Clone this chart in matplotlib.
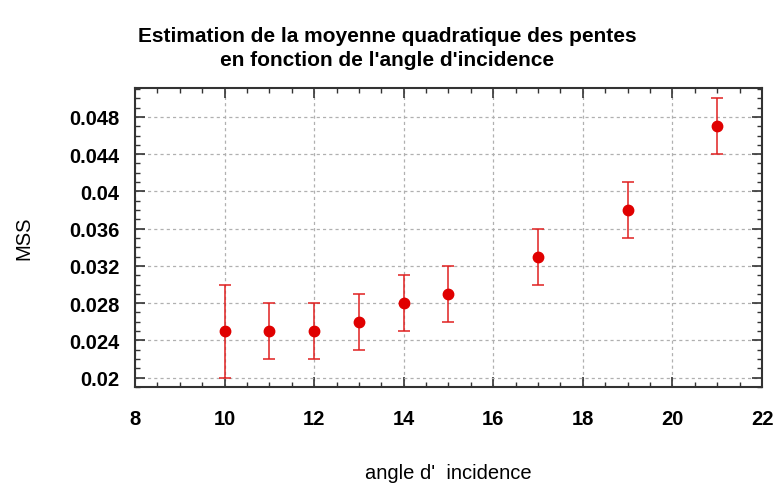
import numpy as np
import matplotlib.pyplot as plt
from matplotlib.ticker import MultipleLocator

plt.rcParams['font.family'] = ['Liberation Sans', 'DejaVu Sans']

# incidence angle (deg), mean square slope and its uncertainty
angle = [10, 11, 12, 13, 14, 15, 17, 19, 21]
mss = [0.025, 0.025, 0.025, 0.026, 0.028, 0.029, 0.033, 0.038, 0.047]
mss_err = [0.005, 0.003, 0.003, 0.003, 0.003, 0.003, 0.003, 0.003, 0.003]

xticks = [8, 10, 12, 14, 16, 18, 20, 22]
yticks = [0.02, 0.024, 0.028, 0.032, 0.036, 0.04, 0.044, 0.048]
ytick_labels = ['0.02', '0.024', '0.028', '0.032', '0.036', '0.04', '0.044', '0.048']

fig = plt.figure(figsize=(7.74, 4.85), dpi=100)
ax = fig.add_axes([0.1744, 0.2, 0.8101, 0.6165])

ax.errorbar(angle, mss, yerr=mss_err, fmt='o', color='#e00000', ecolor='#e02020',
            markersize=7.5, elinewidth=1.1, capsize=4.5, capthick=1.1, zorder=3)

ax.set_xlim(8, 22)
ax.set_ylim(0.0190, 0.0511)
ax.set_xticks(xticks)
ax.set_xticklabels([str(t) for t in xticks])
ax.set_yticks(yticks)
ax.set_yticklabels(ytick_labels)
ax.xaxis.set_minor_locator(MultipleLocator(0.5))
ax.yaxis.set_minor_locator(MultipleLocator(0.001))

ax.tick_params(which='both', direction='in', top=True, right=True, color='#333333')
ax.tick_params(which='major', length=7.5, width=1.2, labelsize=14.5)
ax.tick_params(axis='x', which='major', pad=15.5)
ax.tick_params(axis='y', which='major', pad=11)
ax.tick_params(which='minor', length=3.8, width=1.0)
for lab in ax.get_xticklabels() + ax.get_yticklabels():
    lab.set_fontweight('bold')

for s in ax.spines.values():
    s.set_linewidth(1.5)
    s.set_color('#333333')

ax.grid(True, which='major', linestyle=(0, (2.5, 2.5)), color='#b0b0b0', linewidth=0.9)

ax.set_xlabel("angle d'  incidence", fontsize=14.5, labelpad=25.5)
ax.set_ylabel('MSS', fontsize=14.5, labelpad=26)
ax.set_title("Estimation de la moyenne quadratique des pentes\nen fonction de l'angle d'incidence",
             fontsize=15, fontweight='bold', pad=16.5, x=(0.5 - 0.1744) / 0.8101,
             linespacing=1.35)

fig.savefig('out.png', dpi=100)
